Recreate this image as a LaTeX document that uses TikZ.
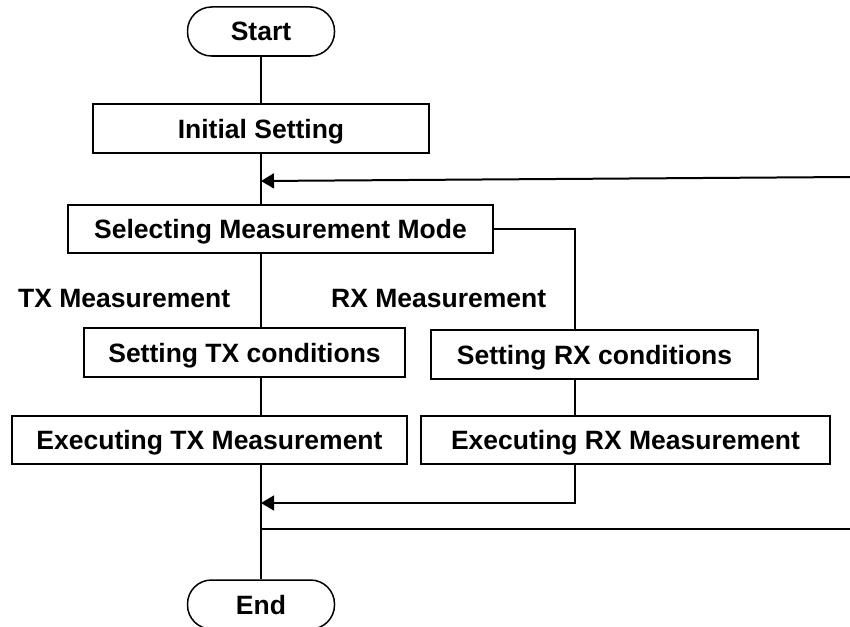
\documentclass[tikz,border=0pt]{standalone}
\usepackage{fontspec}
\setmainfont{Liberation Sans}
\usetikzlibrary{arrows.meta}
\begin{document}
\begin{tikzpicture}[x=1pt,y=-1pt,
  txt/.style={font=\fontsize{26.5}{30}\selectfont\bfseries},
  box/.style={txt, draw, line width=1.5pt, inner sep=0pt, text height=19pt, text depth=0pt},
  term/.style={box, rounded corners=24pt, minimum width=147pt, minimum height=49pt},
  lbl/.style={txt, inner sep=0pt, anchor=base west},
  conn/.style={line width=1.4pt},
  feed/.style={line width=2pt},
  tip/.style={-{Triangle[length=13pt,width=15pt]}}
]
\useasboundingbox (0,0) rectangle (850,626);

% column positions of the two measurement branches
\coordinate (txc) at (261,0);
\coordinate (rxc) at (575,0);

% process steps
\node[term] (start) at (261,31.5) {Start};
\node[box, minimum width=336pt, minimum height=49pt] (init) at (261,128.5) {Initial Setting};
\node[box, minimum width=425pt, minimum height=48pt] (sel) at (280.5,229) {Selecting Measurement Mode};
\node[lbl] (txlbl) at (18,307) {TX Measurement};
\node[lbl] (rxlbl) at (331,307) {RX Measurement};
\node[box, minimum width=321pt, minimum height=49pt] (settx) at (244.5,352.5) {Setting TX conditions};
\node[box, minimum width=327pt, minimum height=49pt] (setrx) at (594.5,354.5) {Setting RX conditions};
\node[box, minimum width=395pt, minimum height=48pt] (exectx) at (209.5,440) {Executing TX Measurement};
\node[box, minimum width=409pt, minimum height=48pt] (execrx) at (625.5,440) {Executing RX Measurement};
\node[term] (fin) at (261,604.5) {End};

% loop entry / exit points
\coordinate (loopin) at (850,177);
\coordinate (loopjoin) at (261,181);
\coordinate (merge) at (261,503);
\coordinate (exitj) at (261,529);
\coordinate (exitr) at (850,529);

% connectors
\draw[conn] (start.south) -- (txc |- init.north);
\draw[conn] (txc |- init.south) -- (txc |- sel.north);
\draw[feed, tip] (loopin) -- (loopjoin);
\draw[conn] (txc |- sel.south) -- (txc |- settx.north);
\draw[conn] (sel.east) -| (rxc |- setrx.north);
\draw[conn] (txc |- settx.south) -- (txc |- exectx.north);
\draw[conn] (rxc |- setrx.south) -- (rxc |- execrx.north);
\draw[conn, tip] (rxc |- execrx.south) |- (merge);
\draw[conn] (txc |- exectx.south) -- (txc |- fin.north);
\draw[feed] (exitj) -- (exitr);
\end{tikzpicture}
\end{document}
